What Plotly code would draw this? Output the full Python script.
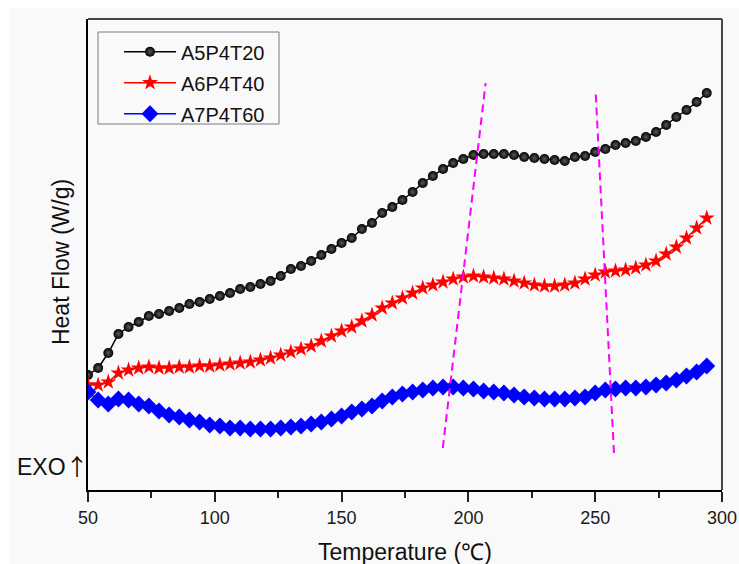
import plotly.graph_objects as go

# ---- data ----
temperature = [50 + 4 * k for k in range(62)]  # 50 ... 294 °C, sampled every 4 °C

a5p4t20 = [1.15, 1.22, 1.37, 1.56, 1.63, 1.68, 1.74, 1.76, 1.79, 1.82,
           1.86, 1.88, 1.91, 1.94, 1.97, 2.01, 2.03, 2.06, 2.09, 2.14,
           2.21, 2.24, 2.29, 2.35, 2.41, 2.47, 2.52, 2.61, 2.67, 2.77,
           2.83, 2.90, 2.98, 3.07, 3.14, 3.21, 3.27, 3.31, 3.35, 3.36,
           3.36, 3.36, 3.35, 3.33, 3.32, 3.31, 3.30, 3.29, 3.33, 3.34,
           3.38, 3.41, 3.45, 3.47, 3.49, 3.53, 3.58, 3.65, 3.73, 3.80,
           3.88, 3.97]

a6p4t40 = [1.05, 1.05, 1.08, 1.17, 1.20, 1.22, 1.23, 1.22, 1.22, 1.23,
           1.23, 1.24, 1.24, 1.25, 1.26, 1.27, 1.28, 1.30, 1.32, 1.35,
           1.38, 1.41, 1.44, 1.49, 1.54, 1.59, 1.63, 1.69, 1.75, 1.82,
           1.87, 1.92, 1.97, 2.02, 2.05, 2.08, 2.11, 2.13, 2.14, 2.13,
           2.12, 2.11, 2.09, 2.07, 2.05, 2.04, 2.04, 2.05, 2.07, 2.11,
           2.15, 2.18, 2.19, 2.20, 2.22, 2.25, 2.29, 2.36, 2.43, 2.52,
           2.62, 2.72]

a7p4t60 = [0.98, 0.90, 0.86, 0.91, 0.90, 0.86, 0.84, 0.79, 0.75, 0.73,
           0.70, 0.68, 0.65, 0.64, 0.62, 0.62, 0.61, 0.61, 0.61, 0.62,
           0.63, 0.64, 0.66, 0.68, 0.71, 0.74, 0.78, 0.81, 0.84, 0.89,
           0.93, 0.96, 0.98, 1.00, 1.02, 1.03, 1.03, 1.02, 1.01, 0.99,
           0.98, 0.97, 0.95, 0.93, 0.92, 0.91, 0.91, 0.91, 0.92, 0.93,
           0.97, 1.00, 1.01, 1.02, 1.02, 1.03, 1.05, 1.07, 1.10, 1.14,
           1.18, 1.24]

guide1_x = [189.9, 206.8]
guide1_y = [0.42, 4.07]
guide2_x = [257.4, 250.2]
guide2_y = [0.37, 3.97]

x_ticks = [50, 100, 150, 200, 250, 300]

FONT = "Arial, 'Liberation Sans', sans-serif"
BG = "#f9f9f9"

fig = go.Figure()

fig.add_trace(go.Scatter(
    x=temperature, y=a5p4t20, name="A5P4T20", mode="lines+markers",
    legendgroup="g1",
    line=dict(color="black", width=1.5),
    marker=dict(symbol="circle", size=10, color="#000000",
                gradient=dict(type="radial", color="#5a5a5a"),
                line=dict(width=0)),
))
fig.add_trace(go.Scatter(
    x=temperature, y=a6p4t40, name="A6P4T40", mode="lines+markers",
    legendgroup="g2",
    line=dict(color="#ff0000", width=1.5),
    marker=dict(symbol="star", size=12, color="#ff0000", line=dict(width=0)),
))
fig.add_trace(go.Scatter(
    x=temperature, y=a7p4t60, name="A7P4T60", mode="lines+markers",
    legendgroup="g3",
    line=dict(color="#0000ff", width=1.5),
    marker=dict(symbol="diamond", size=13, color="#0000ff", line=dict(width=0)),
))
for gx, gy in ((guide1_x, guide1_y), (guide2_x, guide2_y)):
    fig.add_trace(go.Scatter(
        x=gx, y=gy, mode="lines", showlegend=False, hoverinfo="skip",
        line=dict(color="#ff00ff", width=2, dash="8px,5px"),
    ))

# legend frame (pixel position 98..279 x 32..124 in the figure)
lx0, lx1 = (98 - 88) / 634, (279 - 88) / 634
ly0, ly1 = (490 - 124) / 471, (490 - 32) / 471

fig.update_layout(
    width=739, height=564,
    margin=dict(l=88, r=17, t=19, b=74, autoexpand=False),
    paper_bgcolor="white",
    plot_bgcolor=BG,
    font=dict(family=FONT, color="#1a1a1a"),
    showlegend=True,
    legend=dict(
        x=(119 - 88) / 634, y=0.972, xanchor="left", yanchor="top",
        bgcolor="rgba(0,0,0,0)", borderwidth=0,
        font=dict(size=20, family=FONT, color="#111111"),
        itemwidth=52, traceorder="grouped", tracegroupgap=2,
    ),
    xaxis=dict(
        range=[50, 300], tickvals=x_ticks, ticktext=[str(v) for v in x_ticks],
        showline=True, linecolor="black", linewidth=2, automargin=False,
        ticks="outside", ticklen=10, tickwidth=2, tickcolor="#222222",
        minor=dict(dtick=25, tick0=50, ticks="outside", ticklen=6,
                   tickwidth=2, tickcolor="#222222"),
        showgrid=False, zeroline=False,
        tickfont=dict(size=18, family=FONT, color="#1a1a1a"),
    ),
    yaxis=dict(
        range=[0, 4.71], showline=True, linecolor="black", linewidth=2,
        automargin=False,
        showticklabels=False, ticks="", showgrid=False, zeroline=False,
    ),
    shapes=[
        dict(type="rect", xref="paper", yref="paper",
             x0=-0.123, x1=1.03, y0=-0.16, y1=1.0234,
             fillcolor=BG, line=dict(width=0), layer="below"),
        dict(type="line", xref="paper", yref="paper", x0=0, x1=1, y0=1, y1=1,
             line=dict(color="#484848", width=2)),
        dict(type="line", xref="paper", yref="paper", x0=1, x1=1, y0=0, y1=1,
             line=dict(color="#484848", width=2)),
        dict(type="rect", xref="paper", yref="paper",
             x0=lx0, x1=lx1, y0=ly0, y1=ly1,
             fillcolor="rgba(0,0,0,0)", line=dict(color="#7a7a7a", width=1)),
    ],
    annotations=[
        dict(text="Temperature (℃)",
             xref="paper", yref="paper",
             x=0.5, y=-0.1316, xanchor="center", yanchor="middle",
             showarrow=False, font=dict(size=23, family=FONT, color="#111111")),
        dict(text="Heat Flow (W/g)", xref="paper", yref="paper",
             x=-0.0426, y=0.484, xanchor="center", yanchor="middle",
             textangle=-90, showarrow=False,
             font=dict(size=23, family=FONT, color="#111111")),
        dict(text="EXO<span style='font-family:Noto Sans CJK SC'>↑</span>",
             xref="paper", yref="paper",
             x=-0.115, y=0.053, xanchor="left", yanchor="middle",
             showarrow=False, font=dict(size=23, family=FONT, color="#111111")),
    ],
)

fig.write_html("out.html")
